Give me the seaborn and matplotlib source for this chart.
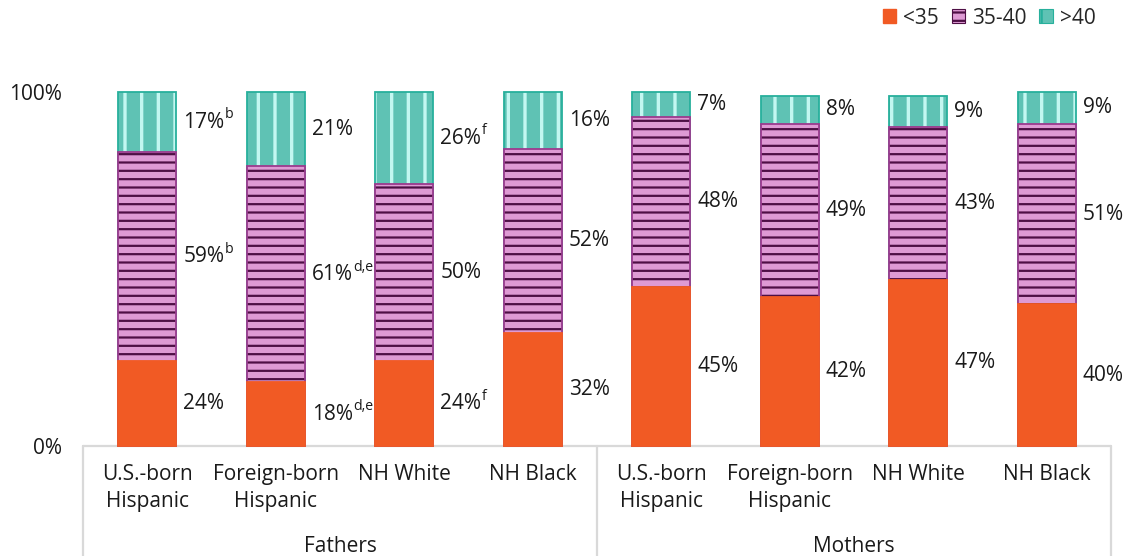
import matplotlib
matplotlib.use("Agg")
import matplotlib.pyplot as plt
from matplotlib.patches import Patch
import seaborn as sns
import pandas as pd

# ---- data -----------------------------------------------------------------
groups = ["Fathers", "Mothers"]
categories = ["U.S.-born\nHispanic", "Foreign-born\nHispanic", "NH White", "NH Black"]
under35 = [24, 18, 24, 32, 45, 42, 47, 40]
age35_40 = [59, 61, 50, 52, 48, 49, 43, 51]
over40 = [17, 21, 26, 16, 7, 8, 9, 9]
under35_notes = ["", "d,e", "f", "", "", "", "", ""]
age35_40_notes = ["b", "d,e", "", "", "", "", "", ""]
over40_notes = ["b", "", "f", "", "", "", "", ""]
series_names = ["<35", "35-40", ">40"]
y_ticks = [0, 100]
y_ticklabels = ["0%", "100%"]

# ---- styling ---------------------------------------------------------------
sns.set_theme(style="white")
FONT = "Open Sans"
plt.rcParams["font.family"] = [FONT, "DejaVu Sans"]
plt.rcParams["hatch.linewidth"] = 1.6
FS = 15
TXT = "#1a1a1a"

ORANGE = "#F15A24"
PINK = "#DE9AD4"
PURPLE_DARK = "#4E0F45"
PURPLE_EDGE = "#9B3A8E"
TEAL = "#5FC2B4"
TEAL_LIGHT = "#C4F7F1"
TEAL_EDGE = "#27B09C"
GRID_GREY = "#D9D9D9"

keys = [f"{g}|{c}" for g in groups for c in categories]
df = pd.DataFrame({
    "key": keys,
    "under35": under35,
    "mid_cum": [a + b for a, b in zip(under35, age35_40)],
    "total": [a + b + c for a, b, c in zip(under35, age35_40, over40)],
})

W, H = 1131, 556
fig = plt.figure(figsize=(W / 100, H / 100), dpi=100)
ax = fig.add_axes([83 / W, (H - 446) / H, (1111 - 83) / W, (446 - 92) / H])

BAR_W = 0.45


def layer(col, face, edge, hatch=None, lw=0.0, fill=True, hatch_lw=None):
    sns.barplot(data=df, x="key", y=col, order=keys, width=BAR_W,
                errorbar=None, saturation=1, color=face, ax=ax)
    for p in ax.containers[-1]:
        p.set_facecolor(face if fill else "none")
        p.set_edgecolor(edge)
        p.set_linewidth(lw)
        if hatch:
            p.set_hatch(hatch)
            if hatch_lw is not None and hasattr(p, "set_hatch_linewidth"):
                p.set_hatch_linewidth(hatch_lw)
        p.set_clip_on(False)


# >40 segment (drawn as full stack, covered below by the lower segments)
layer("total", TEAL, TEAL_LIGHT, hatch="|", hatch_lw=2.4)
layer("total", TEAL, TEAL_EDGE, lw=1.3, fill=False)
# 35-40 segment
layer("mid_cum", PINK, PURPLE_DARK, hatch="--", hatch_lw=1.6)
layer("mid_cum", PINK, PURPLE_EDGE, lw=1.3, fill=False)
# <35 segment
layer("under35", ORANGE, ORANGE, lw=1.3)

ax.set_xlim(-0.5, len(keys) - 0.5)
ax.set_ylim(0, 100)
ax.set_xlabel("")
ax.set_ylabel("")
for s in ax.spines.values():
    s.set_visible(False)

ax.set_yticks(y_ticks)
ax.set_yticklabels(y_ticklabels, fontsize=FS, color=TXT)
ax.tick_params(axis="y", length=0, pad=15)
ax.set_xticks(range(len(keys)))
ax.set_xticklabels(categories * len(groups), fontsize=FS, color=TXT,
                   linespacing=1.4, va="top")
ax.tick_params(axis="x", length=0, pad=13)

# category box below the plot
xt = ax.get_xaxis_transform()
ax.plot([-0.5, len(keys) - 0.5], [0, 0], color=GRID_GREY, lw=1.6,
        transform=xt, clip_on=False, zorder=0.5)
for xv in [-0.5, 3.5, 7.5]:
    ax.plot([xv, xv], [0, -0.32], color=GRID_GREY, lw=1.6,
            transform=xt, clip_on=False, zorder=0.5)
for gi, g in enumerate(groups):
    ax.text(gi * 4 + 1.5, -0.283, g, transform=xt, ha="center", va="center",
            fontsize=FS, color=TXT)


# value labels with footnote superscripts
def label(i, y, value, note):
    t = ax.text(i + BAR_W / 2 + 0.055, y, f"{value}%", ha="left", va="center",
                fontsize=FS, color=TXT)
    if note:
        ax.annotate(note, xy=(1, 1), xycoords=t, xytext=(0.5, 3),
                    textcoords="offset points", ha="left", va="top",
                    fontsize=FS * 0.68, color=TXT)


for i in range(len(keys)):
    base = 0
    for vals, notes in [(under35, under35_notes), (age35_40, age35_40_notes),
                        (over40, over40_notes)]:
        v = vals[i]
        label(i, base + v / 2, v, notes[i])
        base += v

# legend
handles = [
    Patch(facecolor=ORANGE, edgecolor=ORANGE, label=series_names[0]),
    Patch(facecolor=PINK, edgecolor=PURPLE_DARK, hatch="--", lw=0.8,
          label=series_names[1]),
    Patch(facecolor=TEAL, edgecolor=TEAL_EDGE, hatch="|", lw=0.8,
          label=series_names[2]),
]
fig.legend(handles=handles, loc="center right",
           bbox_to_anchor=(1096 / W, 1 - 18 / H),
           ncol=3, frameon=False, fontsize=FS, handlelength=0.65,
           handleheight=0.65, handletextpad=0.35, columnspacing=0.6,
           borderaxespad=0, borderpad=0)

fig.savefig("out.png", dpi=100)
